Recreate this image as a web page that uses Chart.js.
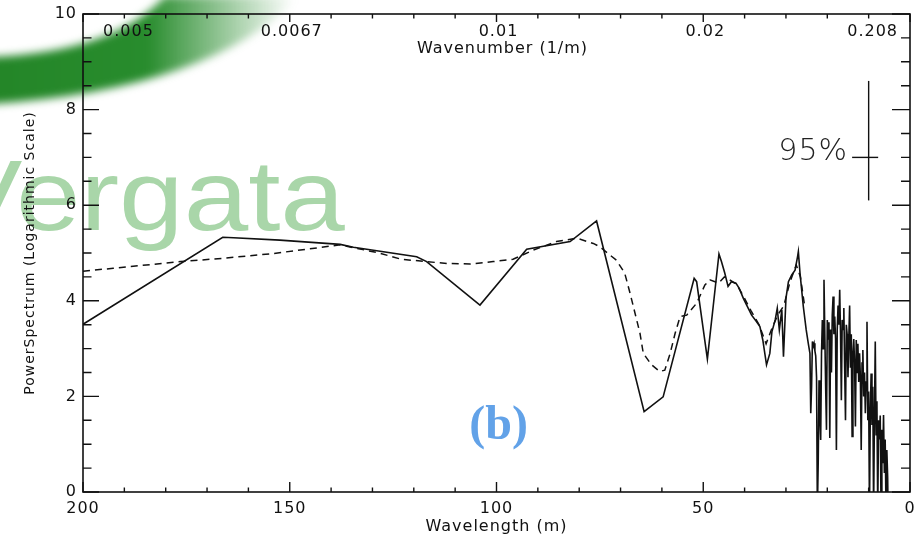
<!DOCTYPE html>
<html>
<head>
<meta charset="utf-8">
<script src="https://cdn.jsdelivr.net/npm/chart.js@4.4.1/dist/chart.umd.min.js"></script>
<style>
  html, body { margin: 0; padding: 0; background: #fff; }
</style>
</head>
<body>
<canvas id="spectrumChart" width="917" height="536"></canvas>
<script>
// Espectro medido (línea continua): longitud de onda (m) y potencia (escala log)
const solidWavelength = [
  200, 166.2, 163.6, 152.4, 137.8, 134.6, 119.3, 116.9, 104.0, 92.7, 82.2, 75.8,
  64.3, 59.7, 52.2, 51.6, 49.0, 47.6, 46.2, 45.6, 44.8, 44.0, 43.2, 42.1, 41.3,
  40.3, 39.5, 38.3, 37.1, 36.3, 35.6, 34.7, 33.9, 33.4, 32.6, 32.1, 31.6, 31.0,
  30.6, 30.0, 29.4, 28.6, 27.8, 27.2, 27.0, 26.6, 25.8, 25.1, 24.6,
  24.2, 24.0, 23.8, 23.6, 23.4, 23.2, 23.0, 22.8, 22.6, 22.4, 22.2, 22.0, 21.8,
  21.6, 21.4, 21.2, 21.0, 20.8, 20.6, 20.4, 20.2, 20.0, 19.8, 19.6, 19.4, 19.2,
  19.0, 18.8, 18.6, 18.4, 18.2, 18.0, 17.8, 17.6, 17.4, 17.2, 17.0, 16.8, 16.6,
  16.4, 16.2, 16.0, 15.8, 15.6, 15.4, 15.2, 15.0, 14.8, 14.6, 14.4, 14.2, 14.0,
  13.8, 13.6, 13.4, 13.2, 13.0, 12.8, 12.6, 12.4, 12.2, 12.0, 11.8, 11.6, 11.4,
  11.2, 11.0, 10.8, 10.6, 10.4, 10.2, 10.0, 9.8, 9.6, 9.4, 9.2, 9.0, 8.8, 8.6,
  8.4, 8.2, 8.0, 7.8, 7.6, 7.4, 7.2, 7.0, 6.8, 6.6, 6.4, 6.2, 6.0, 5.8, 5.6,
  5.4, 5.3
];
const solidPower = [
  3.51, 5.33, 5.32, 5.27, 5.18, 5.12, 4.92, 4.82, 3.91, 5.08, 5.24, 5.67,
  1.68, 1.99, 4.47, 4.40, 2.78, 3.88, 4.98, 4.82, 4.58, 4.30, 4.40, 4.37, 4.26,
  4.05, 3.91, 3.70, 3.56, 3.46, 3.18, 2.66, 2.90, 3.35, 3.60, 3.84, 3.39, 3.81,
  2.83, 4.05, 4.40, 4.54, 4.64, 4.92, 5.03, 4.58, 3.88, 3.39, 3.11,
  2.90, 1.65, 2.20, 3.15, 3.05, 3.11, 2.95, 2.85, 2.40, -0.4, 0.60, 2.34, 1.60,
  1.09, 2.90, 3.60, 3.00, 4.44, 3.30, 2.20, 1.30, 3.60, 3.20, 3.55, 1.13, 3.40,
  2.50, 3.70, 4.09, 3.30, 3.67, 3.20, 0.88, 3.40, 3.90, 3.50, 4.23, 3.30, 1.92,
  3.60, 3.40, 3.85, 2.60, 1.50, 3.50, 3.30, 2.40, 3.20, 3.90, 2.60, 3.30, 1.16,
  2.90, 3.20, 2.70, 1.37, 3.18, 2.50, 3.10, 2.30, 2.90, 2.40, 0.88, 2.70, 2.97,
  2.00, 2.50, 1.65, 2.30, 3.56, 1.50, 2.10, -0.4, 1.70, 2.48, 1.40, 2.20, -0.4, 1.60,
  3.15, 1.20, 1.90, -0.4, 1.50, 1.10, 1.60, -0.4, 1.30, 0.60, 1.61, 0.40, 1.10, -0.4, 0.88,
  0.30, -0.4
];

// Espectro suavizado (línea discontinua)
const smoothWavelength = [
  200, 192.7, 176.4, 166.0, 153.9, 137.8, 128.4, 123.1, 116.9, 112.0, 106.4,
  100.8, 96.0, 91.1, 85.5, 80.6, 76.6, 75.0, 72.6, 71.0, 69.0, 67.7, 66.5, 65.3,
  64.5, 62.5, 60.5, 59.3, 58.0, 56.8, 55.6, 54.0, 51.6, 49.6, 48.4, 46.3, 44.9,
  43.6, 42.0, 40.3, 38.5, 36.5, 34.8, 33.5, 32.0, 30.5, 29.0, 27.5, 26.5, 25.5
];
const smoothPower = [
  4.62, 4.68, 4.82, 4.89, 4.99, 5.17, 5.00, 4.87, 4.82, 4.78, 4.77,
  4.82, 4.87, 5.06, 5.24, 5.31, 5.20, 5.13, 4.96, 4.85, 4.58, 4.16, 3.74, 3.32,
  2.90, 2.66, 2.52, 2.55, 2.90, 3.32, 3.67, 3.70, 3.95, 4.33, 4.44, 4.37, 4.50,
  4.44, 4.35, 4.10, 3.80, 3.50, 3.10, 3.40, 3.70, 3.90, 4.40, 4.75, 4.50, 3.90
];

// Barra de confianza del 95%
const ciBarWavelength = [10, 10];
const ciBarPower = [6.1, 8.6];
const ciCapWavelength = [14, 7.7];
const ciCapPower = [7.0, 7.0];
const ciLabel = '95%';

// Eje superior: número de onda (1/m)
const topTickValues = [200, 150, 100, 50, 0];
const topTickLabels = ['0.005', '0.0067', '0.01', '0.02', '0.208'];

const FONT = '"DejaVu Sans", sans-serif';

function pts(xs, ys) {
  return xs.map((x, i) => ({ x: x, y: ys[i] }));
}

// Fondo: marca de agua verde
const watermark = {
  id: 'watermark',
  beforeDraw(chart) {
    const ctx = chart.ctx;
    ctx.save();
    ctx.filter = 'blur(4px)';
    const grad = ctx.createLinearGradient(0, 0, 295, 0);
    grad.addColorStop(0, 'rgba(36,134,40,1)');
    grad.addColorStop(0.5, 'rgba(40,140,45,1)');
    grad.addColorStop(1, 'rgba(40,140,45,0)');
    ctx.fillStyle = grad;
    ctx.beginPath();
    ctx.moveTo(-10, 57);
    ctx.quadraticCurveTo(115, 52, 165, -4);
    ctx.lineTo(300, -4);
    ctx.quadraticCurveTo(210, 90, -10, 104);
    ctx.closePath();
    ctx.fill();
    ctx.restore();

    ctx.save();
    ctx.fillStyle = '#a9d6a9';
    ctx.font = '100px "Liberation Sans", Arial, sans-serif';
    ctx.textBaseline = 'alphabetic';
    ctx.scale(1.16, 1);
    ctx.fillText('Vergata', -55 / 1.16, 230);
    ctx.restore();
    ctx.letterSpacing = '1px';
  },
  afterDraw(chart) {
    chart.ctx.letterSpacing = '0px';
  }
};

// Marco, marcas hacia dentro, eje superior y anotaciones
const frameAndLabels = {
  id: 'frameAndLabels',
  afterDatasetsDraw(chart) {
    const ctx = chart.ctx;
    const xs = chart.scales.x, ys = chart.scales.y;
    const a = chart.chartArea;
    ctx.save();
    ctx.strokeStyle = '#111';
    ctx.lineWidth = 1.6;
    ctx.strokeRect(a.left, a.top, a.right - a.left, a.bottom - a.top);
    ctx.lineWidth = 1.4;
    ctx.beginPath();
    for (let v = 0; v <= 10; v += 0.5) {
      const py = ys.getPixelForValue(v);
      const major = v % 2 === 0;
      ctx.moveTo(a.left, py); ctx.lineTo(a.left + (major ? 16 : 8.5), py);
      ctx.moveTo(a.right, py); ctx.lineTo(a.right - (major ? 18 : 9), py);
    }
    for (let w = 0; w <= 200; w += 10) {
      const px = xs.getPixelForValue(w);
      const major = w % 50 === 0;
      ctx.moveTo(px, a.bottom); ctx.lineTo(px, a.bottom - (major ? 10 : 4.5));
      ctx.moveTo(px, a.top); ctx.lineTo(px, a.top + (major ? 8 : 4.5));
    }
    ctx.stroke();

    ctx.fillStyle = '#111';
    ctx.font = '16px ' + FONT;
    ctx.textBaseline = 'middle';
    topTickValues.forEach((w, i) => {
      let px = xs.getPixelForValue(w);
      if (i === 0) { ctx.textAlign = 'left'; px += 20; }
      else if (i === topTickValues.length - 1) { ctx.textAlign = 'right'; px -= 12; }
      else { ctx.textAlign = 'center'; px += 2; }
      ctx.fillText(topTickLabels[i], px, a.top + 18);
    });
    ctx.textAlign = 'center';
    ctx.fillText('Wavenumber (1/m)', (a.left + a.right) / 2 + 6, a.top + 35);

    ctx.font = '200 30px ' + FONT;
    ctx.textAlign = 'right';
    ctx.fillStyle = '#222';
    ctx.fillText(ciLabel, xs.getPixelForValue(15), ys.getPixelForValue(7.1));

    ctx.letterSpacing = '0px';
    ctx.font = 'bold 48px "Liberation Serif", "Times New Roman", serif';
    ctx.fillStyle = '#62a2e8';
    ctx.textAlign = 'center';
    ctx.fillText('(b)', xs.getPixelForValue(99.5), ys.getPixelForValue(1.36));
    ctx.restore();
  }
};

const ctx = document.getElementById('spectrumChart').getContext('2d');
new Chart(ctx, {
  type: 'line',
  data: {
    datasets: [
      {
        label: 'Smoothed',
        data: pts(smoothWavelength, smoothPower),
        borderColor: '#111',
        borderWidth: 1.5,
        borderDash: [7, 5],
        pointRadius: 0,
        tension: 0
      },
      {
        label: 'Spectrum',
        data: pts(solidWavelength, solidPower),
        borderColor: '#111',
        borderWidth: 1.6,
        pointRadius: 0,
        tension: 0
      },
      {
        label: '95% bar',
        data: pts(ciBarWavelength, ciBarPower),
        borderColor: '#111',
        borderWidth: 1.4,
        pointRadius: 0
      },
      {
        label: '95% cap',
        data: pts(ciCapWavelength, ciCapPower),
        borderColor: '#111',
        borderWidth: 1.4,
        pointRadius: 0
      }
    ]
  },
  options: {
    responsive: false,
    animation: false,
    events: [],
    layout: { padding: { top: 14, right: 7, left: 0, bottom: 0 } },
    plugins: {
      legend: { display: false },
      tooltip: { enabled: false }
    },
    scales: {
      x: {
        type: 'linear',
        reverse: true,
        min: 0,
        max: 200,
        afterFit(scale) {
          scale.height = 44;
          scale.paddingLeft = 0;
          scale.paddingRight = 0;
        },
        grid: { display: false, drawTicks: false },
        border: { display: false },
        ticks: {
          stepSize: 50,
          padding: 7,
          maxRotation: 0,
          color: '#111',
          font: { family: FONT, size: 16 }
        },
        title: {
          display: true,
          text: 'Wavelength (m)',
          color: '#111',
          font: { family: FONT, size: 16 },
          padding: { top: 0, bottom: 0 }
        }
      },
      y: {
        min: 0,
        max: 10,
        afterFit(scale) {
          scale.width = 83;
          scale.paddingTop = 0;
          scale.paddingBottom = 0;
        },
        grid: { display: false, drawTicks: false },
        border: { display: false },
        ticks: {
          stepSize: 2,
          padding: 6,
          color: '#111',
          font: { family: FONT, size: 16 }
        },
        title: {
          display: true,
          text: 'PowerSpectrum (Logarithmic Scale)',
          color: '#111',
          font: { family: FONT, size: 14 },
          padding: { top: 22, bottom: 0 }
        }
      }
    }
  },
  plugins: [watermark, frameAndLabels]
});
</script>
</body>
</html>
